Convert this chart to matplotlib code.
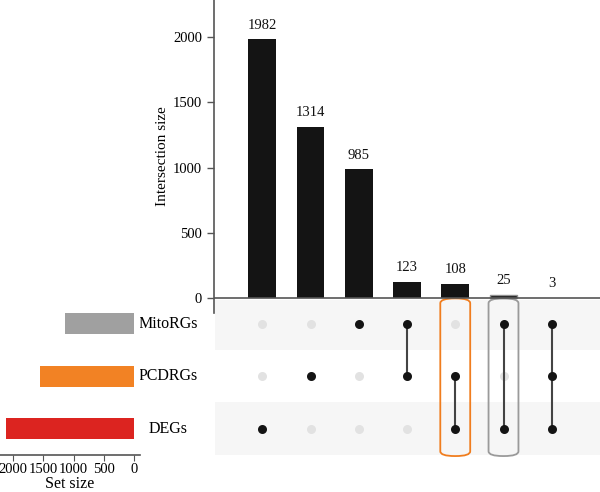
import numpy as np
import matplotlib
matplotlib.use("Agg")
import matplotlib.pyplot as plt
from matplotlib.patches import FancyBboxPatch

plt.rcParams['font.family'] = ['Liberation Serif', 'DejaVu Serif']

# data
set_names = ["DEGs", "PCDRGs", "MitoRGs"]          # row 0 at bottom
set_sizes = [2118, 1548, 1136]
set_colors = ["#dc2420", "#f28224", "#a0a0a0"]

inter_sizes = [1982, 1314, 985, 123, 108, 25, 3]
# membership per intersection: which sets (indices into set_names)
inter_members = [[0], [1], [2], [1, 2], [0, 1], [0, 2], [0, 1, 2]]

n_cols = len(inter_sizes)
xs = np.arange(n_cols)
dark = "#141414"
spine_c = "#555555"

fig = plt.figure(figsize=(6, 4.92), dpi=100)

# intersection bars
ax_bar = fig.add_axes([214 / 600, (492 - 313) / 492, 386 / 600, 313 / 492])
ax_bar.set_facecolor("none")
edge = ["none"] * n_cols
edge[5] = "#909090"
ax_bar.bar(xs, inter_sizes, width=0.58, color=dark, edgecolor=edge, linewidth=1.0, zorder=3)
for x, v in zip(xs, inter_sizes):
    ax_bar.text(x, v + 60, str(v), ha="center", va="bottom", fontsize=10.5, color="#111")
ax_bar.set_xlim(-1.0, 7.0)
ax_bar.set_ylim(-115, 2284)
ax_bar.axhline(0, color=spine_c, lw=1.2, zorder=4)
ax_bar.set_yticks([0, 500, 1000, 1500, 2000])
ax_bar.set_xticks([])
ax_bar.tick_params(axis="y", labelsize=10.5, length=5, color=spine_c, width=1)
for s in ["top", "right", "bottom"]:
    ax_bar.spines[s].set_visible(False)
ax_bar.spines["left"].set_color(spine_c)
ax_bar.spines["left"].set_linewidth(1.2)
ax_bar.set_ylabel("Intersection size", fontsize=11, labelpad=3)

# matrix
ax_m = fig.add_axes([214 / 600, (492 - 455) / 492, 386 / 600, 155 / 492], zorder=-1)
ax_m.set_xlim(-1.0, 7.0)
ax_m.set_ylim(-0.5, 2.45)
for r in range(len(set_names)):
    if r % 2 == 0:
        ax_m.axhspan(r - 0.5, r + 0.5, xmin=0.003, color="#f6f6f6", zorder=0, lw=0)
for x, members in zip(xs, inter_members):
    ax_m.scatter([x] * 3, range(3), s=42, color="#e2e2e2", zorder=2, lw=0)
    ax_m.plot([x, x], [min(members), max(members)], color="#444444", lw=1.5, zorder=3)
    ax_m.scatter([x] * len(members), members, s=42, color=dark, zorder=4, lw=0)
for r, name in enumerate(set_names):
    ax_m.text(-1.95, r, name, ha="center", va="center", fontsize=11.5, clip_on=False)
ax_m.axis("off")

# highlight boxes
box_specs = [(4, "#f07d1e"), (5, "#9a9a9a")]
for col, c in box_specs:
    box = FancyBboxPatch((col - 0.31, -0.52), 0.62, 3.0,
                         boxstyle="round,pad=0,rounding_size=0.3",
                         mutation_aspect=0.3, fill=False, edgecolor=c,
                         lw=1.3, clip_on=False, zorder=6)
    ax_m.add_patch(box)

# set sizes
ax_s = fig.add_axes([0, (492 - 455) / 492, 140 / 600, 155 / 492])
ax_s.barh(range(3), set_sizes, height=0.4, color=set_colors)
ax_s.set_xlim(2215, -99)
ax_s.set_ylim(-0.5, 2.45)
ax_s.set_xticks([2000, 1500, 1000, 500, 0])
ax_s.set_yticks([])
ax_s.tick_params(axis="x", labelsize=10.5, length=4, color=spine_c, pad=2)
for s in ["top", "right", "left"]:
    ax_s.spines[s].set_visible(False)
ax_s.spines["bottom"].set_color(spine_c)
ax_s.spines["bottom"].set_linewidth(1.2)
ax_s.set_xlabel("Set size", fontsize=11.5, labelpad=0)

fig.savefig("out.png", dpi=100)
